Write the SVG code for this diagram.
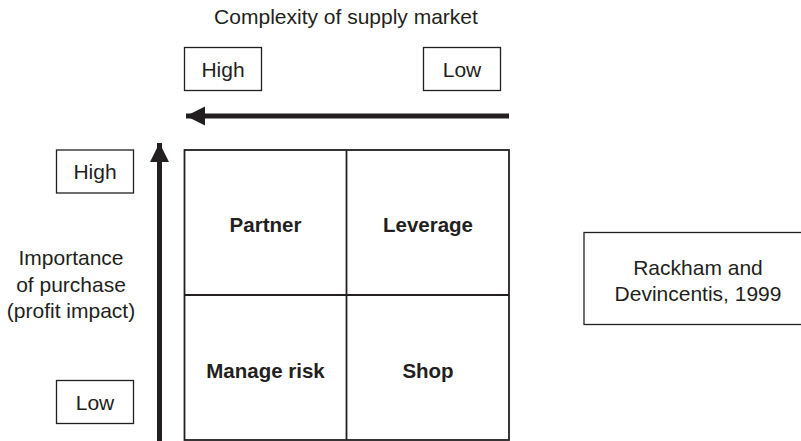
<svg xmlns="http://www.w3.org/2000/svg" width="801" height="441" viewBox="0 0 801 441">
<style>
text{font-family:"Liberation Sans",Arial,sans-serif;fill:#231f20;font-size:21px;text-anchor:middle}
.b{font-weight:bold;font-size:20.5px}
.box{fill:#fff;stroke:#231f20;stroke-width:1.3}
.grid{fill:none;stroke:#231f20;stroke-width:1.8}
.axis{stroke:#231f20;stroke-width:5;fill:none}
</style>
<defs>
<marker id="ah" markerUnits="userSpaceOnUse" markerWidth="20" markerHeight="20" refX="19" refY="10" orient="auto" viewBox="0 0 20 20">
<path d="M0,0.5 L19,10 L0,19.5 Z" fill="#231f20"/>
</marker>
</defs>
<rect width="801" height="441" fill="#fff"/>
<g id="title"><text x="346" y="24">Complexity of supply market</text></g>
<g id="x-high"><rect class="box" x="184.5" y="47.5" width="77" height="43"/><text x="223" y="76.5">High</text></g>
<g id="x-low"><rect class="box" x="423.5" y="47.5" width="77" height="43"/><text x="462" y="76.5">Low</text></g>
<g id="y-high"><rect class="box" x="56.5" y="150" width="77" height="43"/><text x="95" y="179">High</text></g>
<g id="y-low"><rect class="box" x="56.5" y="380.5" width="77" height="43"/><text x="95" y="409.5">Low</text></g>
<g id="y-label"><text x="71" y="265">Importance</text><text x="71" y="291.5">of purchase</text><text x="71" y="318">(profit impact)</text></g>
<g id="source"><rect class="box" x="584" y="232.5" width="230" height="92"/><text x="698" y="275">Rackham and</text><text x="698" y="301">Devincentis, 1999</text></g>
<g id="connectors">
<line class="axis" x1="509" y1="116" x2="186" y2="116" marker-end="url(#ah)"/>
<line class="axis" x1="159.5" y1="441" x2="159.5" y2="143" marker-end="url(#ah)"/>
</g>
<g id="matrix">
<rect class="grid" x="184.5" y="150" width="324.5" height="290"/>
<line class="grid" x1="346.5" y1="150" x2="346.5" y2="440"/>
<line class="grid" x1="184.5" y1="295" x2="509" y2="295"/>
</g>
<g id="partner"><text class="b" x="265.5" y="232">Partner</text></g>
<g id="leverage"><text class="b" x="428" y="232">Leverage</text></g>
<g id="manage-risk"><text class="b" x="265.5" y="378">Manage risk</text></g>
<g id="shop"><text class="b" x="428" y="378">Shop</text></g>
</svg>
